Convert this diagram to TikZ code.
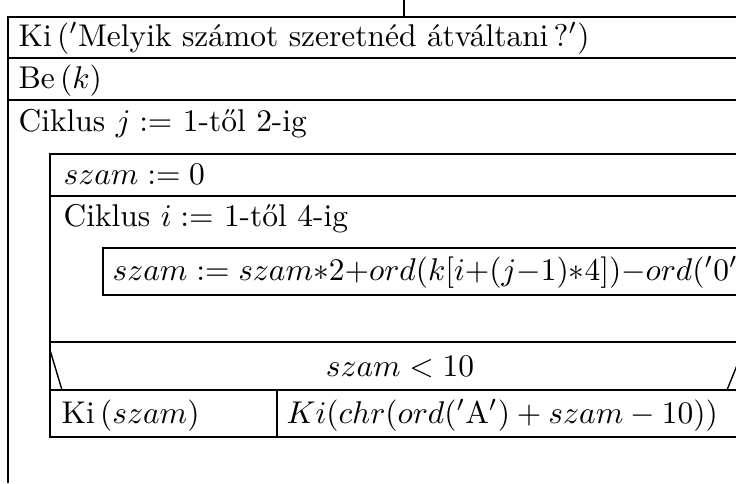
\documentclass[tikz,border=0pt]{standalone}
\usepackage{amsmath,amssymb}
\usepackage{tikz}

\begin{document}
\begin{tikzpicture}[x=0.318pt, y=-0.318pt, every node/.style={inner sep=0pt, anchor=base west}, frame/.style={line width=0.9pt}, rule/.style={line width=0.45pt}]
	\useasboundingbox (0,0) rectangle (736,483);
	\clip (0,0) rectangle (736,483);
	\draw[frame] (404,0) -- (404,17);
	\draw[frame] (8,483) -- (8,17) -- (760,17);
	\draw[frame] (8,58) -- (760,58);
	\draw[frame] (8,100) -- (760,100);
	\draw[frame] (760,154) -- (50,154) -- (50,437) -- (760,437);
	\draw[frame] (50,196) -- (760,196);
	\draw[frame] (760,248) -- (103,248) -- (103,295) -- (760,295);
	\draw[frame] (50,342) -- (760,342);
	\draw[rule] (50,390) -- (760,390);
	\draw[rule] (277,390) -- (277,437);
	\draw[rule] (50,350) -- (62,390);
	\draw[rule] (727,390) -- (740,358);
	\node (kiir) at (18,46) {Ki\,$('$Melyik számot szeretnéd átváltani\,?$')$};
	\node (beolv) at (18,88) {Be\,$(k)$};
	\node (ciklj) at (18,131) {Ciklus $j:=$ 1-től 2-ig};
	\node (nulla) at (63,184) {$szam:=0$};
	\node (cikli) at (63,226) {Ciklus $i:=$ 1-től 4-ig};
	\node (ertek) at (112,280) {$szam:=szam{*}2{+}ord(k[i{+}(j{-}1){*}4]){-}ord('0')$};
	\node[anchor=base] (felt) at (400,376) {$szam<10$};
	\node (igaz) at (61,423) {Ki\,$(szam)$};
	\node (hamis) at (286,423) {$Ki(chr(ord('\mathrm{A}')+szam-10))$};
\end{tikzpicture}
\end{document}
